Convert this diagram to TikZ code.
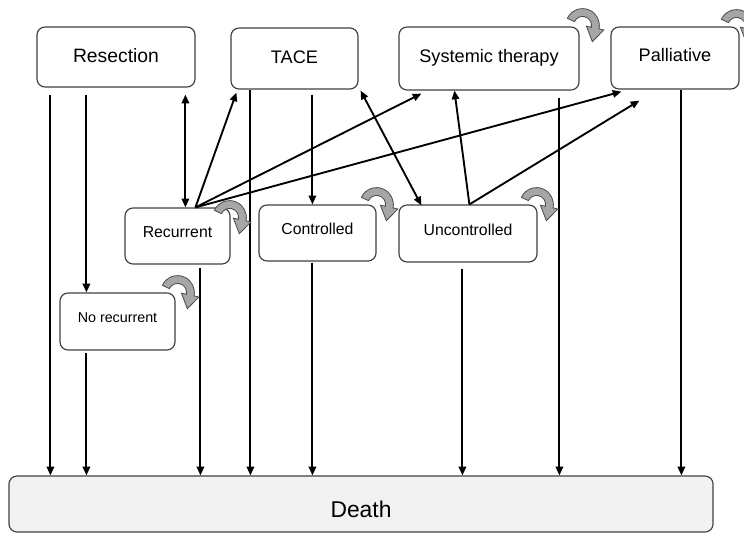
\documentclass[tikz,border=0pt]{standalone}
\usepackage{fontspec}
\setmainfont{Liberation Sans}
\usetikzlibrary{arrows.meta,calc}
\definecolor{loopgray}{RGB}{166,166,166}
\definecolor{deathgray}{RGB}{242,242,242}

\tikzset{
  selfloop/.pic={
    \draw[fill=loopgray, draw=black!70, line width=0.7pt]
      (-155:15) arc[start angle=-155, end angle=12, radius=15]
      -- (19,4.1) -- (8.7,14.5) -- (3.4,0.7)
      -- (12:8) arc[start angle=12, end angle=-155, radius=8] -- cycle;
  }
}

\begin{document}
\begin{tikzpicture}[x=0.03cm, y=-0.03cm,
    box/.style={draw=black!75, line width=1pt, rounded corners=0.24cm, inner sep=0pt, fill=white},
    topbox/.style={box, font=\fontsize{15.5}{18}\selectfont, text height=11.1pt, text depth=5pt},
    midbox/.style={box, font=\fontsize{13.5}{16}\selectfont, text height=9.7pt, text depth=7pt},
    flow/.style={-{Triangle[length=2.6mm,width=2.2mm]}, line width=1.6pt},
    twoway/.style={{Triangle[length=2.6mm,width=2.2mm]}-{Triangle[length=2.6mm,width=2.2mm]}, line width=1.6pt}]
                \useasboundingbox (0,0) rectangle (744,533);

                % treatments
                \node[topbox, minimum width=4.74cm, minimum height=1.8cm, font=\fontsize{16.5}{19}\selectfont, text height=11.8pt, text depth=2pt] (resec) at (116,57) {Resection};
                \node[topbox, minimum width=3.81cm, minimum height=1.83cm, text depth=2.5pt] (tace) at (294.5,58.5) {TACE};
                \node[topbox, minimum width=5.4cm, minimum height=1.89cm] (syst) at (489,58.5) {Systemic therapy};
                \node[topbox, minimum width=3.84cm, minimum height=1.86cm] (pall) at (675,58) {Palliative};

                % states after treatment
                \node[midbox, minimum width=3.15cm, minimum height=1.68cm] (recur) at (177.5,236) {Recurrent};
                \node[midbox, minimum width=3.51cm, minimum height=1.68cm] (contr) at (317.5,233) {Controlled};
                \node[midbox, minimum width=4.14cm, minimum height=1.71cm] (uncon) at (468,233.5) {Uncontrolled};
                \node[midbox, minimum width=3.45cm, minimum height=1.71cm, font=\fontsize{12.2}{14}\selectfont, text height=8.7pt, text depth=7.5pt] (norec) at (117.5,321.5) {No recurrent};

                % absorbing state
                \node[box, fill=deathgray, minimum width=21.12cm, minimum height=1.68cm, font=\fontsize{19.5}{22}\selectfont, text height=23.4pt, text depth=0pt] (death) at (361,504) {Death};

                % start points of the moves
                \coordinate (r1) at ($(resec.south west)+(14,7)$);
                \coordinate (r2) at ($(resec.south west)+(50,7)$);
                \coordinate (r3) at ($(resec.south west)+(149,7)$);
                \coordinate (n1) at ($(norec.south west)+(27,2)$);
                \coordinate (rtop) at ($(recur.north west)+(71,0)$);
                \coordinate (rec1) at ($(recur.south west)+(76,3)$);
                \coordinate (t1) at ($(tace.south west)+(20,0)$);
                \coordinate (t2) at ($(tace.south west)+(82,5)$);
                \coordinate (k1) at ($(contr.south west)+(54,1)$);
                \coordinate (utop) at ($(uncon.north west)+(71,0)$);
                \coordinate (u1) at ($(uncon.south west)+(64,6)$);
                \coordinate (s1) at ($(syst.south west)+(161,7)$);
                \coordinate (p1) at ($(pall.south west)+(71,0)$);

                % from resection
                \draw[flow] (r1) -- (r1 |- death.north);
                \draw[flow] (r2) -- (r2 |- norec.north);
                \draw[flow] (n1) -- (n1 |- death.north);
                \draw[twoway] (r3) -- (r3 |- recur.north);

                % from recurrent
                \draw[flow] (rtop) -- ($(tace.south west)+(6,3)$);
                \draw[flow] (rtop) -- ($(syst.south west)+(23,3)$);
                \draw[flow] (rtop) -- ($(pall.south west)+(11,2)$);
                \draw[flow] (rec1) -- (rec1 |- death.north);

                % from TACE
                \draw[flow] (t1) -- (t1 |- death.north);
                \draw[flow] (t2) -- (t2 |- contr.north);
                \draw[flow] (k1) -- (k1 |- death.north);
                \draw[twoway] ($(tace.south east)+(2,1)$) -- ($(uncon.north west)+(23,1)$);

                % from uncontrolled
                \draw[flow] (utop) -- ($(syst.south west)+(56,0)$);
                \draw[flow] (utop) -- ($(pall.south west)+(29,11)$);
                \draw[flow] (u1) -- (u1 |- death.north);

                % systemic therapy and palliative
                \draw[flow] (s1) -- (s1 |- death.north);
                \draw[flow] (p1) -- (p1 |- death.north);

                % staying in the same state
                \pic[scale=1.12] at ($(syst.north east)+(3,-1)$) {selfloop};
                \pic[scale=1.12] at ($(pall.north east)+(-3,0)$) {selfloop};
                \pic[scale=1.12] at ($(recur.north east)+(-1,10)$) {selfloop};
                \pic[scale=1.12] at ($(contr.north east)+(0,0)$) {selfloop};
                \pic[scale=1.12] at ($(uncon.north east)+(-1,0)$) {selfloop};
                \pic[scale=1.12] at ($(norec.north east)+(2,0)$) {selfloop};

            \end{tikzpicture}
\end{document}
